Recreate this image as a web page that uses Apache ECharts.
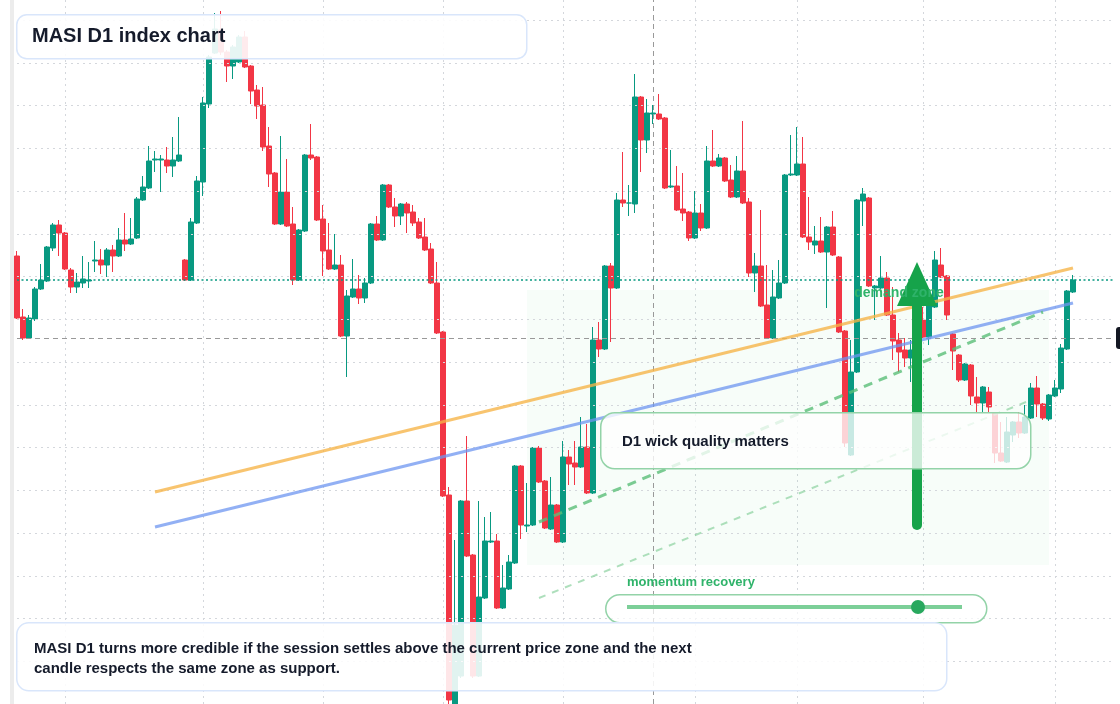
<!DOCTYPE html>
<html><head><meta charset="utf-8">
<script src="https://cdn.jsdelivr.net/npm/echarts@6/dist/echarts.min.js"></script>
<style>html,body{margin:0;padding:0;background:#fff}#c{width:1120px;height:704px}</style>
</head><body><div id="c"></div>
<script>
const openV=[13444,13383,13362,13381,13411,13419,13452,13475,13467,13430,13413,13417,13419,13439,13440,13435,13450,13444,13460,13456,13462,13500,13512,13540,13540,13540,13534,13539,13440,13420,13477,13518,13596,13647,13670,13648,13634,13638,13663,13634,13610,13595,13554,13527,13476,13508,13476,13420,13469,13545,13543,13481,13450,13431,13435,13364,13403,13411,13402,13417,13476,13460,13515,13493,13484,13496,13488,13478,13463,13451,13417,13368,13205,12990,13024,13199,13145,13024,13102,13158,13159,13092,13111,13137,13234,13174,13175,13252,13219,13171,13195,13158,13243,13237,13233,13253,13207,13360,13351,13434,13412,13500,13497,13496,13603,13560,13586,13586,13582,13513,13514,13491,13488,13462,13487,13472,13539,13534,13542,13520,13503,13529,13498,13427,13434,13395,13362,13402,13417,13525,13525,13536,13463,13455,13459,13448,13473,13443,13369,13245,13328,13499,13502,13412,13412,13422,13385,13360,13350,13342,13350,13380,13363,13393,13435,13424,13366,13345,13320,13335,13303,13297,13308,13287,13247,13238,13265,13278,13267,13282,13312,13296,13281,13304,13311,13351,13408];
const closeV=[13382,13362,13382,13411,13420,13453,13475,13467,13431,13413,13418,13421,13420,13440,13435,13450,13444,13460,13456,13461,13501,13513,13539,13541,13541,13534,13540,13545,13420,13478,13519,13597,13643,13671,13648,13634,13653,13663,13633,13609,13594,13553,13526,13476,13508,13474,13420,13470,13545,13542,13480,13449,13431,13435,13364,13404,13411,13402,13417,13476,13460,13515,13493,13484,13496,13487,13477,13462,13450,13417,13367,13204,13000,13075,13199,13144,13024,13103,13159,13159,13092,13112,13138,13234,13175,13175,13252,13218,13172,13195,13158,13243,13236,13233,13253,13207,13360,13351,13434,13412,13500,13497,13497,13603,13560,13587,13587,13581,13512,13514,13490,13487,13462,13487,13472,13539,13534,13542,13519,13503,13529,13497,13427,13434,13394,13362,13403,13417,13525,13526,13536,13463,13458,13459,13448,13473,13445,13368,13257,13328,13500,13506,13414,13414,13422,13385,13359,13348,13342,13350,13365,13363,13395,13440,13423,13385,13349,13320,13336,13304,13297,13313,13293,13247,13239,13268,13278,13267,13283,13312,13296,13282,13305,13312,13352,13409,13420];
const lowV=[13381,13360,13361,13379,13410,13418,13449,13444,13430,13407,13407,13412,13412,13428,13426,13423,13428,13443,13449,13455,13461,13499,13511,13528,13508,13527,13523,13538,13419,13419,13476,13504,13592,13646,13645,13618,13621,13637,13632,13596,13581,13549,13513,13475,13475,13473,13415,13419,13468,13540,13479,13424,13430,13430,13363,13323,13402,13396,13397,13416,13459,13459,13492,13473,13475,13467,13474,13461,13449,13416,13366,13203,12990,12988,13022,13143,13022,13023,13101,13157,13091,13091,13110,13136,13161,13168,13174,13217,13171,13170,13157,13157,13215,13215,13232,13206,13206,13343,13350,13358,13411,13493,13484,13487,13528,13547,13576,13580,13511,13512,13489,13479,13459,13461,13469,13471,13533,13533,13518,13502,13502,13496,13423,13408,13393,13361,13361,13401,13416,13524,13524,13462,13450,13446,13447,13392,13444,13367,13253,13244,13327,13474,13413,13380,13411,13384,13340,13328,13333,13318,13345,13362,13355,13392,13422,13380,13330,13318,13319,13295,13287,13287,13288,13237,13238,13237,13258,13262,13266,13281,13283,13280,13279,13303,13307,13350,13407];
const highV=[13449,13391,13385,13413,13436,13454,13477,13480,13468,13432,13427,13444,13438,13459,13451,13452,13455,13472,13487,13482,13503,13524,13554,13549,13545,13553,13563,13583,13441,13482,13524,13603,13645,13687,13689,13650,13655,13665,13669,13635,13615,13613,13573,13528,13564,13541,13493,13471,13546,13576,13544,13495,13477,13466,13445,13410,13441,13425,13422,13477,13484,13516,13516,13502,13497,13498,13495,13482,13482,13457,13438,13369,13213,13160,13200,13264,13146,13199,13183,13188,13166,13135,13145,13235,13235,13217,13253,13254,13220,13223,13196,13259,13250,13259,13283,13276,13373,13378,13435,13437,13507,13548,13515,13626,13604,13601,13595,13606,13583,13550,13534,13527,13489,13509,13496,13554,13570,13546,13543,13535,13544,13579,13502,13447,13490,13435,13430,13440,13526,13565,13573,13563,13503,13474,13483,13474,13489,13444,13370,13360,13501,13512,13503,13415,13444,13428,13413,13367,13362,13360,13370,13393,13405,13449,13452,13425,13367,13346,13337,13336,13323,13314,13313,13288,13278,13283,13279,13288,13295,13317,13324,13297,13306,13320,13356,13410,13425];
const monthStarts=[8,31,51,71,91,113,130,151,173];
const gridLevels=[13680,13637.25,13594.5,13551.75,13509,13466.25,13423.5,13380.75,13338,13295.25,13252.5,13209.75,13167,13124.25,13081.5,13038.75];
const padCount=7;
const lastPrice=13420, crossPrice=13362, crossIndex=106;

const cats=[];
{let d=new Date(Date.UTC(2024,0,2));while(cats.length<openV.length+padCount){const w=d.getUTCDay();if(w!==0&&w!==6)cats.push(d.toISOString().slice(0,10));d.setUTCDate(d.getUTCDate()+1);}}
const kdata=openV.map((o,i)=>[o,closeV[i],lowV[i],highV[i]]);
for(let i=0;i<padCount;i++)kdata.push('-');

const chart=echarts.init(document.getElementById('c'),null,{renderer:'canvas'});
const ms=new Set(monthStarts);
const gridStyle={color:'#d4d7dc',type:[2,4],width:1};
chart.setOption({
  animation:false,
  grid:{left:17,right:5,top:0,bottom:0},
  xAxis:{type:'category',data:cats,boundaryGap:false,
    axisLine:{show:false},axisTick:{show:false},axisLabel:{show:false},
    splitLine:{show:true,interval:(i)=>ms.has(i),lineStyle:gridStyle}},
  yAxis:{type:'value',position:'right',min:12996,max:13700,scale:true,
    axisLine:{show:false},axisTick:{show:false},axisLabel:{show:false},splitLine:{show:false}},
  series:[{
    type:'candlestick',data:kdata,barWidth:5,clip:false,
    itemStyle:{color:'#089981',color0:'#f23645',borderColor:'#089981',borderColor0:'#f23645',borderWidth:1},
    markArea:{silent:true,itemStyle:{color:'rgba(34,197,94,0.035)'},
      data:[[{coord:[85,13410]},{coord:[172,13135]}]]},
    markLine:{silent:true,symbol:'none',animation:false,label:{show:false},
      data:gridLevels.map(v=>({yAxis:v,lineStyle:gridStyle})).concat([
        {xAxis:crossIndex,lineStyle:{color:'#999',type:[5,4],width:1}},
        {yAxis:crossPrice,lineStyle:{color:'#999',type:[5,4],width:1},
          label:{show:true,position:'end',distance:1,formatter:'13,362.00',color:'#fff',backgroundColor:'#131722',padding:[5,4],fontSize:12,borderRadius:3}},
        {yAxis:lastPrice,lineStyle:{color:'#089981',type:[2,2.5],width:1.5}},
        [{coord:[23,13208],lineStyle:{color:'rgba(246,180,70,0.78)',width:3,type:'solid'}},{coord:[176,13432]}],
        [{coord:[23,13173],lineStyle:{color:'rgba(110,150,240,0.75)',width:3,type:'solid'}},{coord:[176,13397]}],
        [{coord:[87,13178],lineStyle:{color:'rgba(90,190,120,0.8)',width:3,type:[9,7]}},{coord:[171,13388]}],
        [{coord:[87,13102],lineStyle:{color:'rgba(140,210,160,0.7)',width:2,type:[7,7]}},{coord:[169,13300]}],
        [{coord:[150,13175],lineStyle:{color:'#16a34a',width:10,type:'solid',cap:'round'}},{coord:[150,13402]}]
      ])},
    markPoint:{silent:true,animation:false,
      data:[
        {coord:[146.8,13407],symbol:'rect',symbolSize:0,label:{show:true,formatter:'demand zone',color:'#2fb36a',fontWeight:'bold',fontSize:14,fontFamily:'Liberation Sans, Arial'}},
        {coord:[150,13416],symbol:'triangle',symbolSize:[40,44],itemStyle:{color:'#16a34a'},label:{show:false}}
      ]}
  }],
  graphic:[
    {type:'rect',left:10,top:0,shape:{width:4,height:704},style:{fill:'#ececec'},z:10},
    {type:'rect',left:16,top:14,shape:{width:510,height:44,r:10},style:{fill:'rgba(255,255,255,0.9)',stroke:'#d9e6fb',lineWidth:1.5},z:20},
    {type:'text',left:32,top:26,style:{text:'MASI D1 index chart',font:'bold 20px Liberation Sans, Arial',fill:'#151b2b'},z:21},
    {type:'rect',left:600,top:412,shape:{width:430,height:56,r:14},style:{fill:'rgba(255,255,255,0.78)',stroke:'#93d3a8',lineWidth:1.5},z:20},
    {type:'text',left:622,top:434,style:{text:'D1 wick quality matters',font:'bold 15px Liberation Sans, Arial',fill:'#151b2b'},z:21},
    {type:'text',left:627,top:576,style:{text:'momentum recovery',font:'bold 13px Liberation Sans, Arial',fill:'#2fb36a'},z:21},
    {type:'rect',left:605,top:594,shape:{width:381,height:28,r:14},style:{fill:'rgba(255,255,255,0.7)',stroke:'#93d3a8',lineWidth:1.5},z:20},
    {type:'line',shape:{x1:627,y1:607,x2:962,y2:607},style:{stroke:'#7ccf98',lineWidth:4},z:21},
    {type:'circle',shape:{cx:918,cy:607,r:7},style:{fill:'#28a85e'},z:22},
    {type:'rect',left:16,top:622,shape:{width:930,height:68,r:12},style:{fill:'rgba(255,255,255,0.88)',stroke:'#d9e6fb',lineWidth:1.5},z:20},
    {type:'text',left:34,top:639,style:{text:'MASI D1 turns more credible if the session settles above the current price zone and the next\ncandle respects the same zone as support.',font:'bold 15px Liberation Sans, Arial',lineHeight:20,fill:'#151b2b'},z:21}
  ]
});
</script></body></html>
